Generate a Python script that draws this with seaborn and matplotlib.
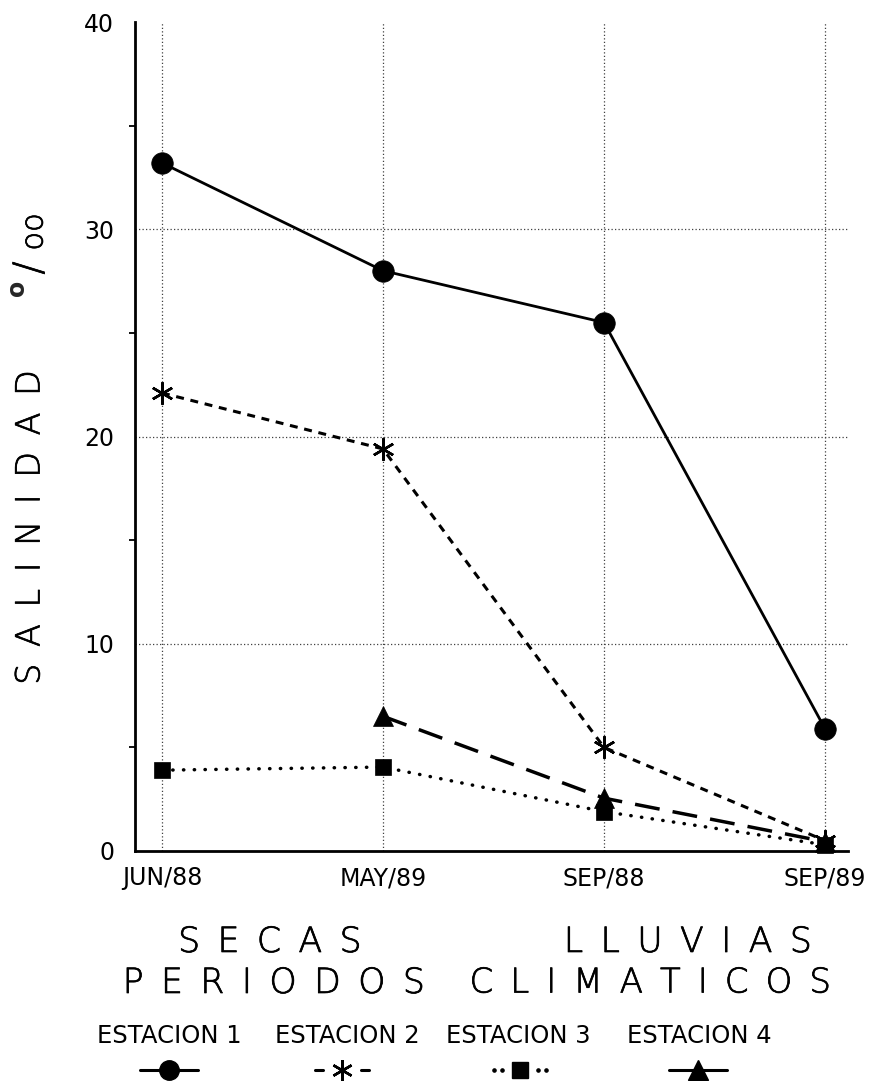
import numpy as np
import pandas as pd
import matplotlib
matplotlib.use("Agg")
import matplotlib.pyplot as plt
import matplotlib.patheffects as pe
from matplotlib.lines import Line2D
import seaborn as sns

# Salinity (o/oo) per sampling period and station
periodos = ["JUN/88", "MAY/89", "SEP/88", "SEP/89"]
estaciones = ["ESTACION 1", "ESTACION 2", "ESTACION 3", "ESTACION 4"]
estacion_1 = [33.2, 28.0, 25.5, 5.9]
estacion_2 = [22.1, 19.4, 5.0, 0.5]
estacion_3 = [3.9, 4.05, 1.9, 0.3]
estacion_4 = [np.nan, 6.5, 2.55, 0.45]
y_ticks = [0, 10, 20, 30, 40]
y_minor = [5, 15, 25, 35]
y_grid = [10, 20, 30]

sns.set_style("white")
plt.rcParams["font.family"] = ["DejaVu Sans"]

df = pd.DataFrame({
    "periodo": periodos * 4,
    "estacion": np.repeat(estaciones, 4),
    "salinidad": estacion_1 + estacion_2 + estacion_3 + estacion_4,
}).dropna()

estilos = {
    "ESTACION 1": dict(marker="o", markersize=15.5, linestyle="-", linewidth=2.0,
                       markeredgewidth=0.5),
    "ESTACION 2": dict(marker=(6, 2, 0), markersize=16, linestyle=(0, (2.6, 2.2)),
                       linewidth=2.2, markeredgewidth=1.8),
    "ESTACION 3": dict(marker="s", markersize=12, linestyle=(0, (0.1, 3.0)),
                       linewidth=2.5, dash_capstyle="round", markeredgewidth=0.5),
    "ESTACION 4": dict(marker="^", markersize=15, linestyle=(0, (7.2, 3.8)),
                       linewidth=2.5, markeredgewidth=0.5),
}

W, H = 879, 1081
fig = plt.figure(figsize=(W / 100, H / 100), dpi=100)
fig.patch.set_facecolor("white")
ax = fig.add_axes([135 / W, 1 - 851 / H, (848 - 135) / W, (851 - 22) / H])

for est in estaciones:
    sub = df[df["estacion"] == est]
    sns.lineplot(data=sub, x="periodo", y="salinidad", ax=ax, color="black",
                 markerfacecolor="black", markeredgecolor="black",
                 sort=False, estimator=None, errorbar=None, legend=False,
                 clip_on=False, zorder=3, **estilos[est])

ax.set_xlim(-0.122, 3.104)
ax.set_ylim(0, 40)
ax.set_yticks(y_ticks)
ax.set_yticks(y_minor, minor=True)
ax.set_xlabel("")
ax.set_ylabel("")

for side in ("top", "right"):
    ax.spines[side].set_visible(False)
for side in ("left", "bottom"):
    ax.spines[side].set_linewidth(2.0)
    ax.spines[side].set_color("black")
    ax.spines[side].set_zorder(4)

ax.tick_params(axis="both", which="major", length=0, labelsize=17, colors="black")
ax.tick_params(axis="y", which="major", pad=15)
ax.tick_params(axis="x", which="major", pad=11)
ax.tick_params(axis="y", which="minor", length=4, width=1.3, direction="out",
               color="black", left=True)

# dotted reference grid: every period, and salinity 10/20/30
grid_kw = dict(color="0.25", linestyle=(0, (1, 1.8)), linewidth=0.9)
ax.grid(True, axis="x", **grid_kw)
ax.grid(False, axis="y")
for yv in y_grid:
    ax.axhline(yv, zorder=1, **grid_kw)
ax.set_axisbelow(True)

# spaced, thin-stroked lettering for the axis titles
thin = [pe.withStroke(linewidth=0.5, foreground="black")]
big = dict(fontweight="light", color="black", ha="center", va="center",
           path_effects=thin)
sp = "\u2002"


def spaced(word):
    return sp.join(word)


fig.text(30 / W, 1 - 527 / H, spaced("SALINIDAD"), rotation=90, fontsize=24, **big)
fig.text(17 / W, 1 - 288 / H, "o", rotation=90, fontsize=17, fontweight="bold",
         ha="center", va="center")
fig.text(30 / W, 1 - 268 / H, "/", rotation=90, fontsize=28, **big)
fig.text(34 / W, 1 - 232 / H, "oo", rotation=90, fontsize=22, **big)

fig.text(270 / W, 1 - 942 / H, spaced("SECAS"), fontsize=25, **big)
fig.text(688 / W, 1 - 942 / H, spaced("LLUVIAS"), fontsize=25, **big)
fig.text(274 / W, 1 - 983 / H, spaced("PERIODOS"), fontsize=25, **big)
fig.text(650 / W, 1 - 983 / H, spaced("CLIMATICOS"), fontsize=24.5, **big)

# station key: name above a short sample of each line style
label_x = [169, 347, 518, 699]
handle_x = [169, 342, 520, 698]
key_y = 1 - 1070 / H
key_markers = [
    dict(marker="o", markersize=14),
    dict(marker=(6, 2, 0), markersize=15, markeredgewidth=1.8),
    dict(marker="s", markersize=12),
    dict(marker="^", markersize=14),
]
for est, lx, hx, km in zip(estaciones, label_x, handle_x, key_markers):
    fig.text(lx / W, 1 - 1036 / H, est, fontsize=17.5, color="black",
             ha="center", va="center")

    def fx(offsets, hx=hx):
        return np.array([hx + o for o in offsets]) / W

    if est in ("ESTACION 1", "ESTACION 4"):
        fig.add_artist(Line2D(fx([-29, 29]), [key_y, key_y], transform=fig.transFigure,
                              color="black", linewidth=2.2))
    elif est == "ESTACION 2":
        for a, b in ((-27, -19), (19, 27)):
            fig.add_artist(Line2D(fx([a, b]), [key_y, key_y], transform=fig.transFigure,
                                  color="black", linewidth=2.2))
    else:
        fig.add_artist(Line2D(fx([-26, -18, 18, 26]), [key_y] * 4,
                              transform=fig.transFigure, color="black",
                              linestyle="none", marker="o", markersize=2.3))
    fig.add_artist(Line2D(fx([0]), [key_y], transform=fig.transFigure, color="black",
                          markerfacecolor="black", markeredgecolor="black",
                          linestyle="none", **km))

fig.savefig("out.png", dpi=100, facecolor="white")
